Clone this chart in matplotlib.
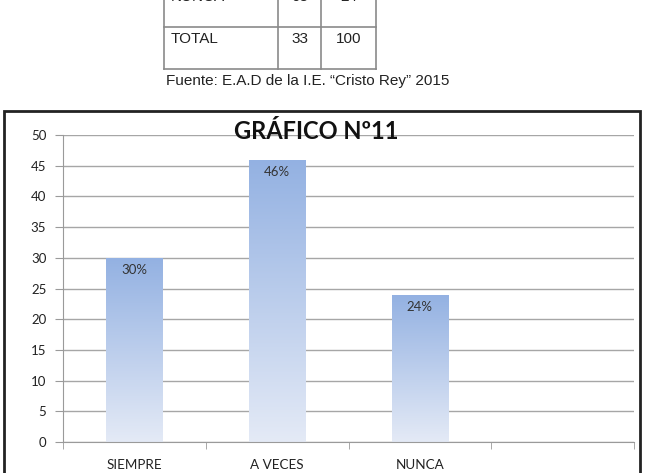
import numpy as np
import matplotlib.pyplot as plt
from matplotlib.patches import Rectangle
from matplotlib.lines import Line2D
from matplotlib.colors import LinearSegmentedColormap
from matplotlib import font_manager

# Data
categories = ["SIEMPRE", "A VECES", "NUNCA", ""]
percentages = [30, 46, 24]
bar_labels = ["30%", "46%", "24%"]
table_rows = [["NUNCA", "08", "24"], ["TOTAL", "33", "100"]]
source_text = "Fuente: E.A.D de la I.E. \u201cCristo Rey\u201d 2015"
title = "GRÁFICO Nº11"
yticks = list(range(0, 51, 5))

names = {f.name for f in font_manager.fontManager.ttflist}
doc_font = "Liberation Sans Narrow" if "Liberation Sans Narrow" in names else "Liberation Sans"
doc_size = 12.5 if doc_font == "Liberation Sans Narrow" else 11

W, H = 649, 473
fig = plt.figure(figsize=(W / 100, H / 100), dpi=100)
fig.patch.set_facecolor("white")

def fx(px):
    return px / W

def fy(py):
    return 1 - py / H

# --- table fragment at the top of the page ---
tcol = "#8a8a8a"
for xv in [164, 278, 321, 376]:
    fig.add_artist(Line2D([fx(xv), fx(xv)], [fy(-5), fy(69)], color=tcol, lw=1.2))
for yv in [27, 69]:
    fig.add_artist(Line2D([fx(164), fx(376)], [fy(yv), fy(yv)], color=tcol, lw=1.2))
row_y = [-3, 39]
for (name, n, pct), yv in zip(table_rows, row_y):
    fig.text(fx(171), fy(yv), name, fontsize=doc_size, family=doc_font,
             ha="left", va="center", color="#222222")
    fig.text(fx(300), fy(yv), n, fontsize=doc_size, family=doc_font,
             ha="center", va="center", color="#222222")
    fig.text(fx(348.5), fy(yv), pct, fontsize=doc_size, family=doc_font,
             ha="center", va="center", color="#222222")
fig.text(fx(166), fy(81), source_text, fontsize=doc_size, family=doc_font,
         ha="left", va="center", color="#222222")

# --- chart frame ---
fig.add_artist(Rectangle((fx(4), fy(480)), fx(640) - fx(4), fy(111) - fy(480),
                         fill=False, edgecolor="#222222", lw=2))

# --- chart ---
ax = fig.add_axes([fx(63), fy(442), fx(634) - fx(63), fy(135) - fy(442)])
x = np.arange(len(percentages))
bars = ax.bar(x, percentages, width=0.395, color="none", edgecolor="none", zorder=2)

cmap = LinearSegmentedColormap.from_list("grad", ["#e4eaf6", "#93b1e2"])
grad = np.linspace(0, 1, 256).reshape(-1, 1)
for b, lab in zip(bars, bar_labels):
    x0, w, h = b.get_x(), b.get_width(), b.get_height()
    im = ax.imshow(grad, cmap=cmap, origin="lower", aspect="auto",
                   extent=[x0, x0 + w, 0, h], zorder=2)
    im.set_clip_path(b)
    ax.text(x0 + w / 2, h - 2.0, lab, ha="center", va="center",
            fontsize=9.5, family="Lato", color="#333333", zorder=3)

ax.set_xlim(-0.5, len(categories) - 0.5)
ax.set_ylim(0, 50)
ax.set_yticks(yticks)
ax.set_yticklabels([str(v) for v in yticks], fontsize=9.5, family="Lato", color="#222222")
ax.set_xticks(range(len(categories)))
ax.set_xticklabels(categories, fontsize=9.7, family="Lato", color="#222222")
ax.set_xticks(np.arange(-0.5, len(categories), 1), minor=True)
ax.tick_params(axis="x", which="major", length=0, pad=12)
ax.tick_params(axis="x", which="minor", length=5, color="#9a9a9a", direction="out")
ax.tick_params(axis="y", length=6, color="#9a9a9a", pad=6)

ax.yaxis.grid(True, color="#a6a6a6", lw=1.0, zorder=0)
ax.set_axisbelow(True)
for s in ["top", "right"]:
    ax.spines[s].set_visible(False)
for s in ["left", "bottom"]:
    ax.spines[s].set_color("#9a9a9a")

fig.text(fx(316), fy(131), title, fontsize=17, fontweight="bold", family="Lato",
         ha="center", va="center", color="#111111")

fig.savefig("out.png", dpi=100)
